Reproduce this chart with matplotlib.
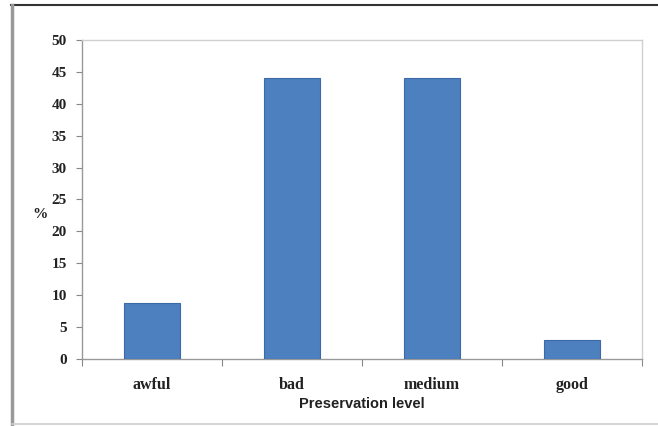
import matplotlib
matplotlib.use("Agg")
import matplotlib.pyplot as plt
from matplotlib.lines import Line2D

# data
categories = ["awful", "bad", "medium", "good"]
percent = [8.8, 44.1, 44.1, 2.9]
yticks = [0, 5, 10, 15, 20, 25, 30, 35, 40, 45, 50]

W, H = 658, 426
fig = plt.figure(figsize=(W / 100, H / 100), dpi=100)
fig.patch.set_facecolor("white")

ax = fig.add_axes([82 / W, 1 - 359 / H, 560 / W, 319 / H])
x = list(range(len(categories)))
ax.bar(x, percent, width=0.4, color="#4d80bf", edgecolor="#3c6aa6", linewidth=0.8, zorder=3)

ax.set_xlim(-0.5, len(categories) - 0.5)
ax.set_ylim(0, 50)
ax.set_yticks(yticks)
ax.set_yticklabels([str(t) for t in yticks], fontfamily="Liberation Serif",
                   fontweight="bold", fontsize=11, color="#222222")
ax.set_xticks(x)
ax.set_xticklabels(categories, fontfamily="Liberation Serif", fontweight="bold",
                   fontsize=11.5, color="#222222")
ax.tick_params(axis="y", length=4, width=0.8, color="#888888", pad=7)
ax.tick_params(axis="x", length=0, pad=13)
# Excel style tick marks between categories
ax.set_xticks([i - 0.5 for i in range(len(categories) + 1)], minor=True)
ax.tick_params(axis="x", which="minor", length=5, width=0.8, color="#888888")

for side in ["top", "right"]:
    ax.spines[side].set_color("#d0d0d0")
    ax.spines[side].set_linewidth(1.0)
for side in ["left", "bottom"]:
    ax.spines[side].set_color("#999999")
    ax.spines[side].set_linewidth(1.0)

ax.set_xlabel("Preservation level", fontfamily="Liberation Sans", fontweight="bold",
              fontsize=10.5, color="#222222", labelpad=3)
fig.text(40 / W, 1 - 215 / H, "%", fontfamily="Liberation Serif", fontweight="bold",
         fontsize=11, color="#222222", ha="center", va="center")

# outer chart frame
fig.add_artist(Line2D([11 / W, 1], [1 - 5 / H, 1 - 5 / H], color="#333333", linewidth=1.5))
fig.add_artist(Line2D([12 / W, 12 / W], [1 - 5 / H, 1 - 424 / H], color="#999999", linewidth=2.5))
fig.add_artist(Line2D([12 / W, 1], [1 - 424 / H, 1 - 424 / H], color="#cccccc", linewidth=1.2))

fig.savefig("out.png", dpi=100)
